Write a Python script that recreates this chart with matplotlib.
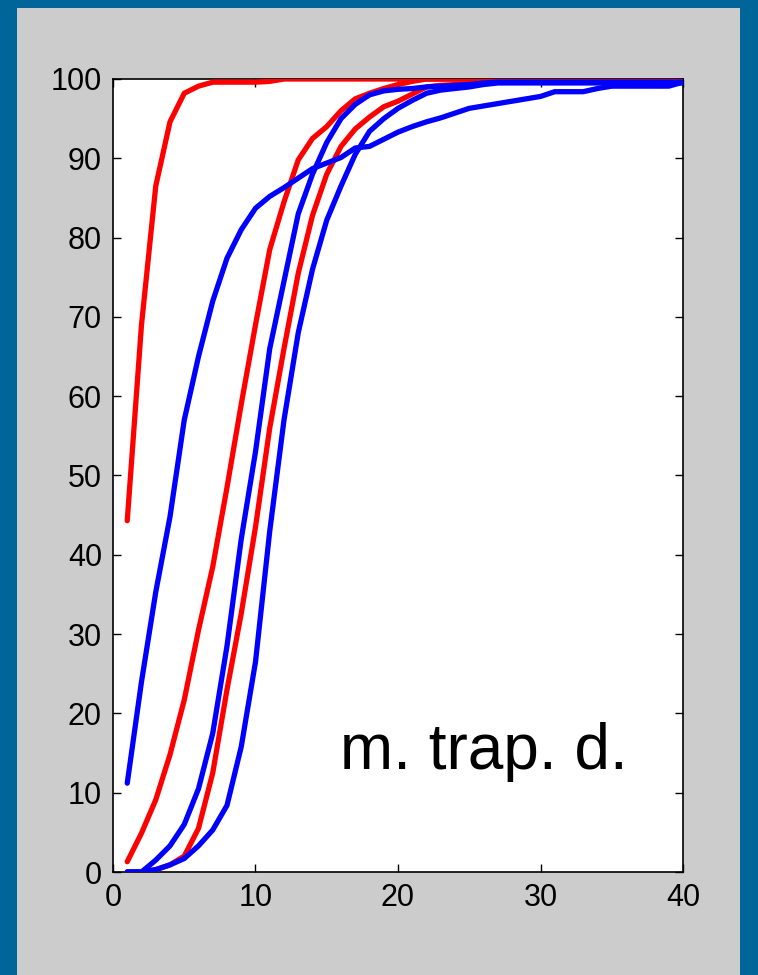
import matplotlib
matplotlib.use('Agg')
import matplotlib.pyplot as plt
from matplotlib.patches import Rectangle
import numpy as np

# iteration index 1..40
x = np.arange(1, 41)

# red curves
red_a = [44.3, 69, 86.5, 94.6, 98.2, 99.1, 99.6, 99.6, 99.6, 99.6, 99.7, 100] + [100] * 28
red_b = [1.3, 4.9, 9.1, 14.8, 21.7, 30.5, 38.5, 48.5, 59, 69,
         78.5, 84.5, 89.8, 92.5, 94, 96, 97.5, 98.2, 98.8, 99.3,
         99.7, 100] + [100] * 18
red_c = [0, 0, 0.3, 0.9, 2, 5.5, 12.5, 23, 32.6, 43.5,
         56, 66, 75.5, 82.8, 88, 91.5, 93.7, 95.2, 96.5, 97.2,
         98.1, 99, 99.2, 99.3, 99.4, 99.5, 99.6, 99.7, 99.8, 100] + [100] * 10

# blue curves
blue_a = [11.2, 24, 35.3, 44.8, 57, 65, 72, 77.4, 81, 83.7,
          85.2, 86.3, 87.5, 88.7, 89.4, 90.1, 91.3, 91.5, 92.4, 93.3,
          94, 94.6, 95.1, 95.7, 96.3, 96.6, 96.9, 97.2, 97.5, 97.8,
          98.4, 98.4, 98.4, 98.8, 99.1, 99.1, 99.1, 99.1, 99.1, 99.6]
blue_b = [0, 0, 1.5, 3.3, 6, 10.5, 17.5, 28.5, 42, 53,
          66, 74.5, 83, 88, 92, 95, 96.8, 98, 98.5, 98.7,
          98.8, 99, 99.1, 99.2, 99.3, 99.5] + [99.6] * 14
blue_c = [0, 0, 0.3, 0.9, 1.7, 3.3, 5.3, 8.4, 15.8, 26.5,
          43, 57, 68, 76, 82.2, 86.5, 90.5, 93.4, 95, 96.3,
          97.3, 98.2, 98.6, 98.8, 99, 99.3] + [99.5] * 14

xticks = [0, 10, 20, 30, 40]
yticks = list(range(0, 101, 10))

fig = plt.figure(figsize=(7.58, 9.75), dpi=100)
fig.patch.set_facecolor('#006699')
# grey slide panel inside the blue frame, kept behind the axes
panel = Rectangle((17 / 758, 0), (740 - 17) / 758, 1 - 8 / 975,
                  transform=fig.transFigure, facecolor='#cccccc',
                  edgecolor='none', zorder=-10)
fig.add_artist(panel)

ax = fig.add_axes([113 / 758, 1 - 872 / 975, 570 / 758, 793 / 975])
ax.set_facecolor('white')

for ys in [red_a, red_b, red_c]:
    ax.plot(x, ys, color='#ff0000', lw=3.8, solid_capstyle='round', zorder=3)
for ys in [blue_a, blue_b, blue_c]:
    ax.plot(x, ys, color='#0000ff', lw=3.8, solid_capstyle='round', zorder=3)

ax.set_xlim(0, 40)
ax.set_ylim(0, 100)
ax.set_xticks(xticks)
ax.set_yticks(yticks)
ax.tick_params(direction='in', length=6, width=1, top=True, right=True,
               labelsize=22, pad=8, colors='black')
for lab in ax.get_xticklabels() + ax.get_yticklabels():
    lab.set_family(['Liberation Sans', 'DejaVu Sans'])
for sp in ax.spines.values():
    sp.set_color('black')
    sp.set_linewidth(1.2)

ax.text(15.95, 13.0, 'm. trap. d.', fontsize=46,
        family=['Liberation Sans', 'DejaVu Sans'],
        color='black', ha='left', va='baseline', zorder=4)

fig.savefig('out.png', dpi=100, facecolor=fig.get_facecolor())
